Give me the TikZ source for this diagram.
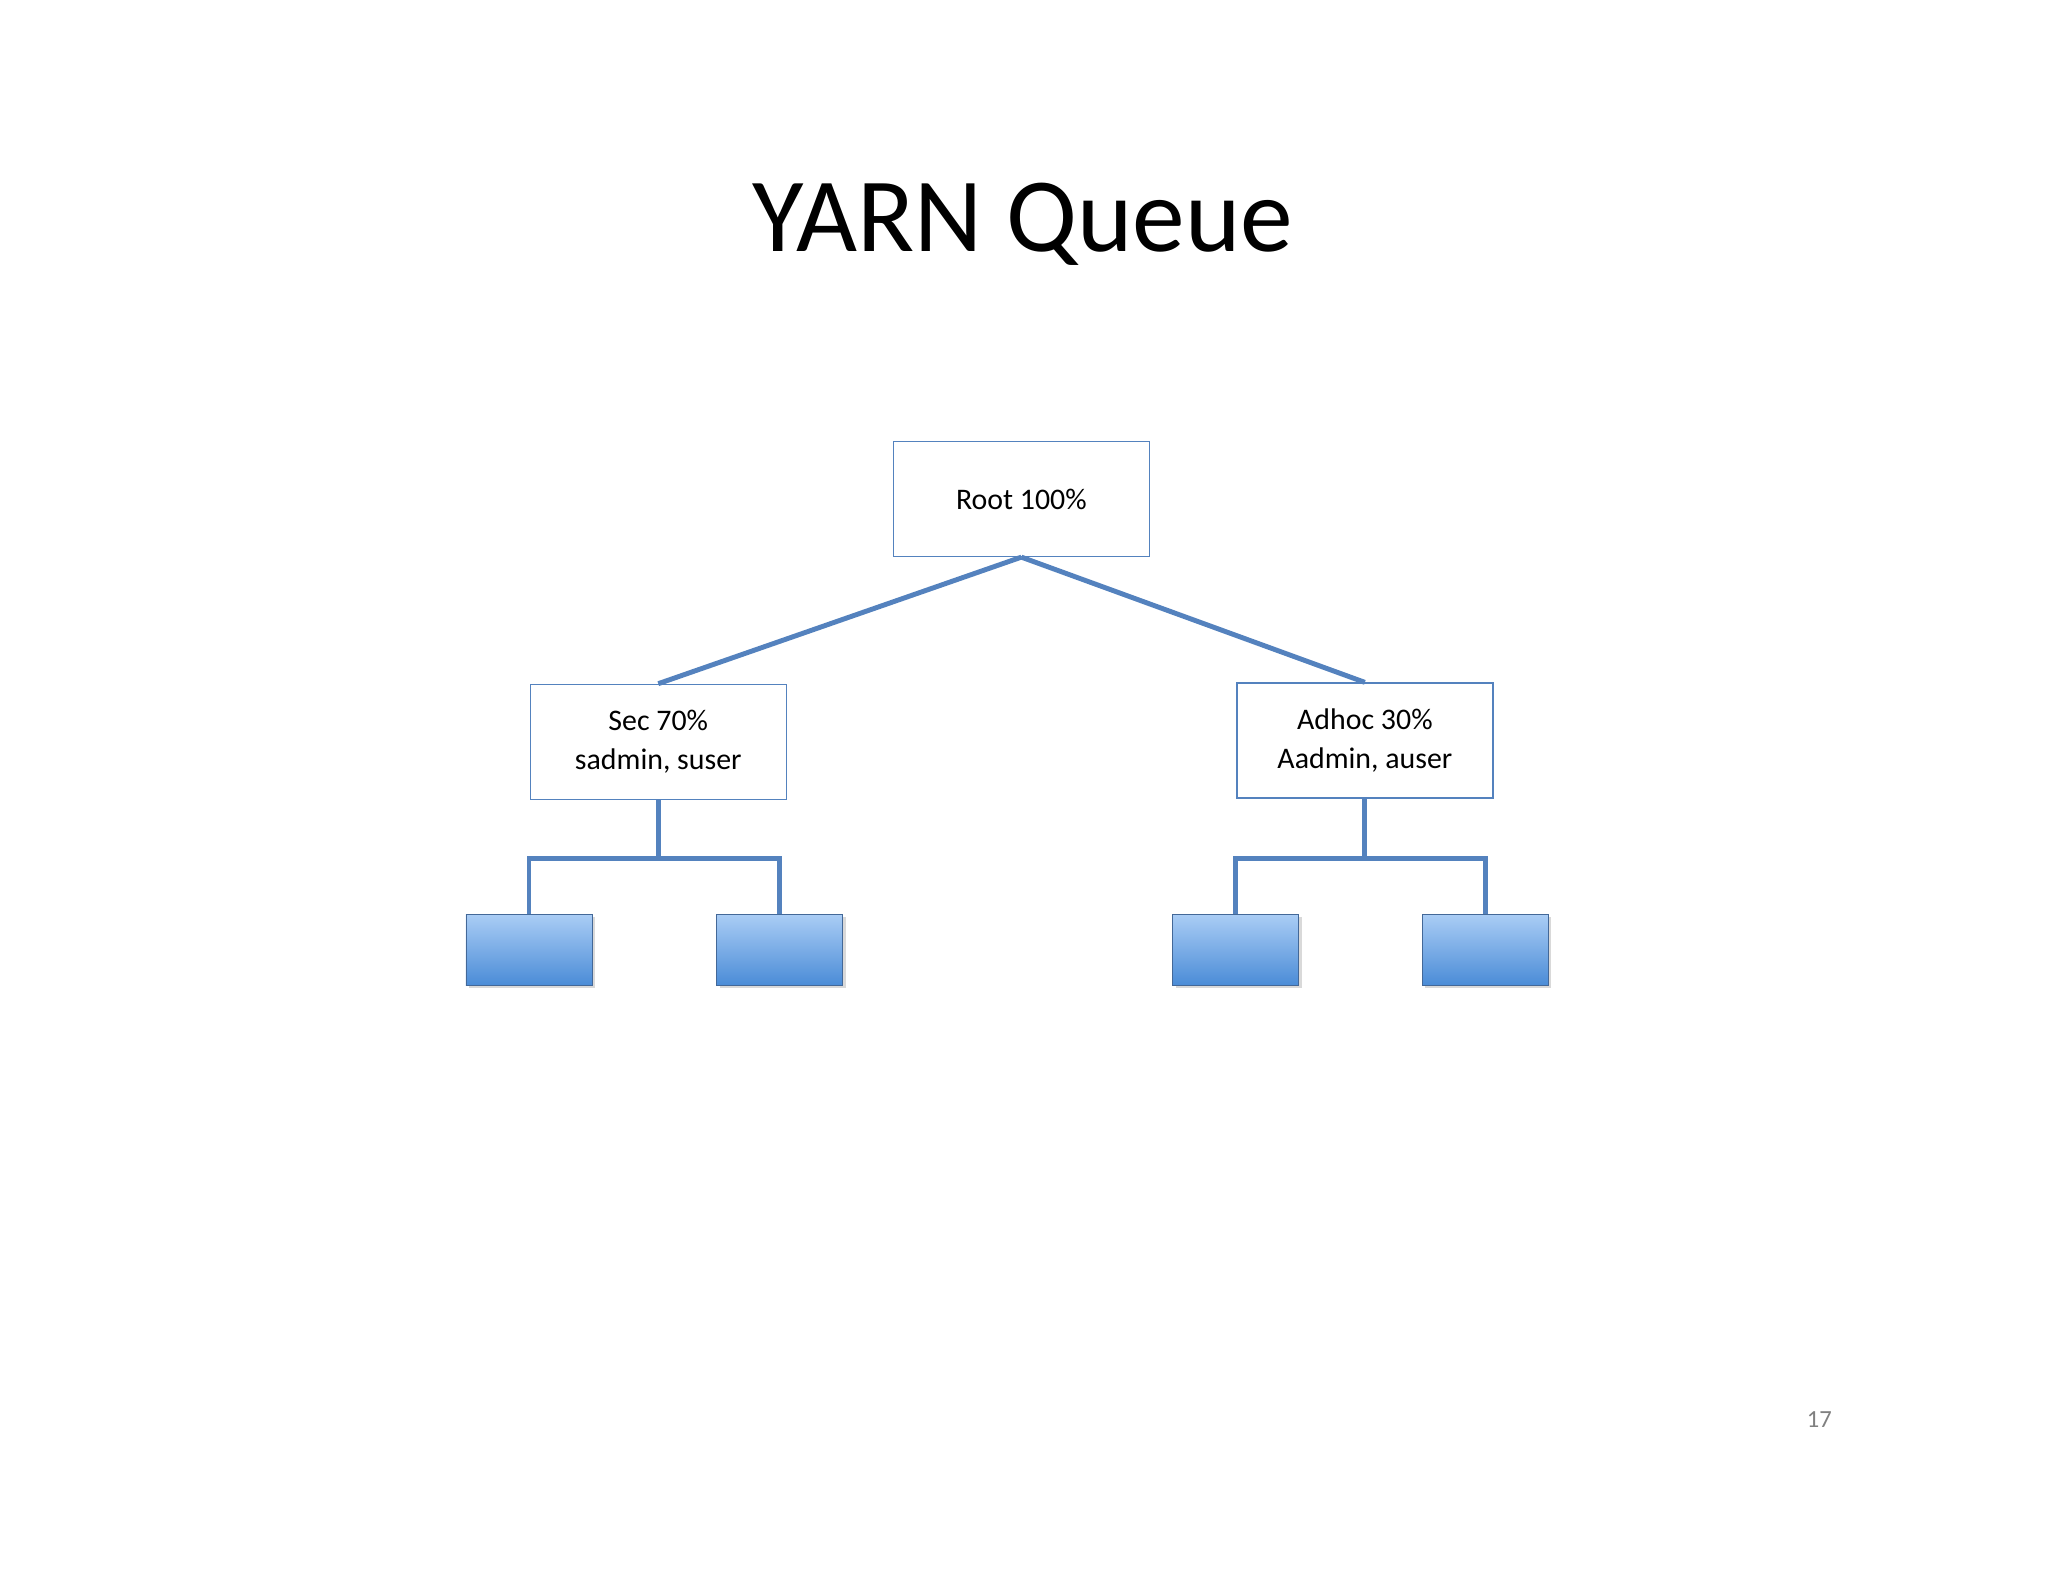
\documentclass[tikz,border=0pt]{standalone}
\usepackage{fontspec}
\setmainfont{Carlito}
\usetikzlibrary{shadows}
\definecolor{linkblue}{RGB}{84,130,190}
\definecolor{leaftop}{RGB}{170,205,245}
\definecolor{leafbot}{RGB}{75,140,215}
\begin{document}
\begin{tikzpicture}[x=0.01306cm,y=-0.01306cm,
  qbox/.style={draw=linkblue,thin,fill=white,minimum width=2.56cm,minimum height=1.15cm,
    align=center,font=\fontsize{8.5pt}{11pt}\selectfont,inner sep=0pt},
  leaf/.style={draw=linkblue!80!black,very thin,top color=leaftop,bottom color=leafbot,
    minimum width=1.26cm,minimum height=0.71cm,inner sep=0pt,
    drop shadow={shadow xshift=0.3mm,shadow yshift=-0.3mm,opacity=0.3}},
  link/.style={draw=linkblue,line width=1.4pt}]
\useasboundingbox (0,0) rectangle (1568,1211);
\node (title) at (783,172) {\fontsize{30pt}{36pt}\selectfont YARN Queue};
\node[qbox] (root) at (782,382) {Root 100\%};
\node[qbox] (sec) at (504,568) {Sec 70\%\\sadmin, suser};
\node[qbox] (adhoc) at (1045,567) {Adhoc 30\%\\Aadmin, auser};
\node[leaf] (l1) at (405,727) {};
\node[leaf] (l2) at (597,727) {};
\node[leaf] (l3) at (946,727) {};
\node[leaf] (l4) at (1137,727) {};
\node[text=gray,font=\fontsize{7pt}{8pt}\selectfont] (page) at (1393,1087) {17};
\draw[link] (root.south) -- (sec.north);
\draw[link] (root.south) -- (adhoc.north);
\coordinate (b1) at (504,657);
\coordinate (b2) at (1045,657);
\draw[link] (sec.south) -- (b1);
\draw[link] (adhoc.south) -- (b2);
\draw[link] (b1) -| (l1.north);
\draw[link] (b1) -| (l2.north);
\draw[link] (b2) -| (l3.north);
\draw[link] (b2) -| (l4.north);
\end{tikzpicture}
\end{document}
